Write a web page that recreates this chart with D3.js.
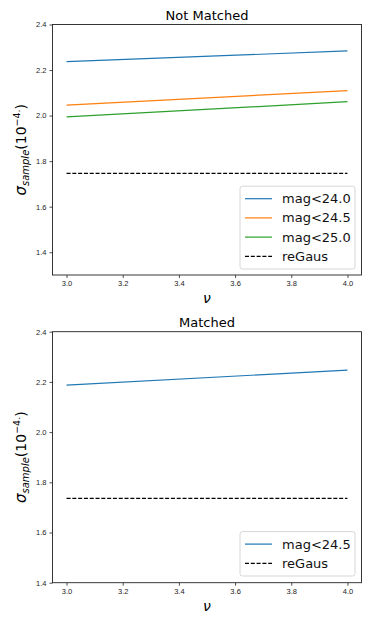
<!DOCTYPE html>
<html>
<head>
<meta charset="utf-8">
<script src="https://cdn.jsdelivr.net/npm/d3@7"></script>
<style>
  body { margin: 0; background: #fff; }
  svg { font-family: "DejaVu Sans", sans-serif; }
</style>
</head>
<body>
<div id="chart"></div>
<script>
// nu values
var nu = [3.0, 4.0];
var xTicks = [3.0, 3.2, 3.4, 3.6, 3.8, 4.0];
var yTicks = [1.4, 1.6, 1.8, 2.0, 2.2, 2.4];

// Not Matched
var nm240 = [2.237, 2.284];
var nm245 = [2.046, 2.110];
var nm250 = [1.994, 2.061];
var nmGaus = [1.746, 1.746];

// Matched
var m245 = [2.187, 2.247];
var mGaus = [1.736, 1.736];

var colors = { blue: "#1f77b4", orange: "#ff7f0e", green: "#2ca02c", black: "#000" };

var svg = d3.select("#chart").append("svg")
  .attr("width", 374)
  .attr("height", 623);

function panel(opts) {
  var x = d3.scaleLinear().domain([2.95, 4.05]).range([52.5, 361.5]);
  var y = d3.scaleLinear().domain(opts.ydom).range([opts.bottom, opts.top]);
  var g = svg.append("g");

  var line = d3.line()
    .x(function(d) { return x(d[0]); })
    .y(function(d) { return y(d[1]); });

  opts.series.forEach(function(s) {
    g.append("path")
      .datum(nu.map(function(v, i) { return [v, s.values[i]]; }))
      .attr("d", line)
      .attr("fill", "none")
      .attr("stroke", s.color)
      .attr("stroke-width", 1.2)
      .attr("stroke-dasharray", s.dash ? "4,1.8" : null);
  });

  var xa = g.append("g")
    .attr("transform", "translate(0," + opts.bottom + ")")
    .call(d3.axisBottom(x).tickValues(xTicks).tickFormat(d3.format(".1f")).tickSize(3).tickPadding(3));
  var ya = g.append("g")
    .attr("transform", "translate(52.5,0)")
    .call(d3.axisLeft(y).tickValues(yTicks.filter(function(t) { return t >= opts.ydom[0] - 1e-9; })).tickFormat(d3.format(".1f")).tickSize(3).tickPadding(3));
  [xa, ya].forEach(function(a) {
    a.select(".domain").remove();
    a.selectAll("text").attr("font-size", 7.5).attr("fill", "#222");
    a.selectAll("line").attr("stroke", "#222").attr("stroke-width", 0.8);
  });

  g.append("rect")
    .attr("x", 52.5).attr("y", opts.top)
    .attr("width", 309).attr("height", opts.bottom - opts.top)
    .attr("fill", "none").attr("stroke", "#222").attr("stroke-width", 0.9);

  g.append("text")
    .attr("x", 207).attr("y", opts.top - 5)
    .attr("text-anchor", "middle").attr("font-size", 13)
    .text(opts.title);

  g.append("text")
    .attr("x", 207).attr("y", opts.bottom + 28)
    .attr("text-anchor", "middle").attr("font-size", 14)
    .attr("font-style", "italic")
    .text("ν");

  var cy = (opts.top + opts.bottom) / 2;
  var yl = g.append("text")
    .attr("transform", "translate(26," + cy + ") rotate(-90)")
    .attr("text-anchor", "middle").attr("font-size", 14);
  yl.append("tspan").attr("font-style", "italic").attr("font-size", 15).text("σ");
  yl.append("tspan").attr("font-style", "italic").attr("font-size", 10).attr("dy", 3).text("sample");
  yl.append("tspan").attr("dy", -3).text("(10");
  yl.append("tspan").attr("font-size", 9.5).attr("dy", -6).text("−4.");
  yl.append("tspan").attr("dy", 6).text(")");

  // legend
  var lg = g.append("g");
  var n = opts.series.length;
  var rowH = 19.2;
  var lh = n * rowH + 6;
  var ly = opts.legendBottom - lh;
  lg.append("rect")
    .attr("x", 240).attr("y", ly)
    .attr("width", 115).attr("height", lh)
    .attr("rx", 2.5)
    .attr("fill", "#fff").attr("fill-opacity", 0.8)
    .attr("stroke", "#ccc").attr("stroke-width", 0.8);
  opts.series.forEach(function(s, i) {
    var ry = ly + 12.5 + i * rowH;
    lg.append("line")
      .attr("x1", 245).attr("x2", 272).attr("y1", ry).attr("y2", ry)
      .attr("stroke", s.color).attr("stroke-width", 1.2)
      .attr("stroke-dasharray", s.dash ? "4,1.8" : null);
    lg.append("text")
      .attr("x", 282).attr("y", ry).attr("dy", "0.35em")
      .attr("font-size", 13).attr("fill", "#111")
      .text(s.label);
  });
}

panel({
  title: "Not Matched",
  top: 24.5, bottom: 275, ydom: [1.30, 2.4], legendBottom: 269,
  series: [
    { label: "mag<24.0", values: nm240, color: colors.blue },
    { label: "mag<24.5", values: nm245, color: colors.orange },
    { label: "mag<25.0", values: nm250, color: colors.green },
    { label: "reGaus", values: nmGaus, color: colors.black, dash: true }
  ]
});

panel({
  title: "Matched",
  top: 331.7, bottom: 582.7, ydom: [1.4, 2.4], legendBottom: 576,
  series: [
    { label: "mag<24.5", values: m245, color: colors.blue },
    { label: "reGaus", values: mGaus, color: colors.black, dash: true }
  ]
});
</script>
</body>
</html>
